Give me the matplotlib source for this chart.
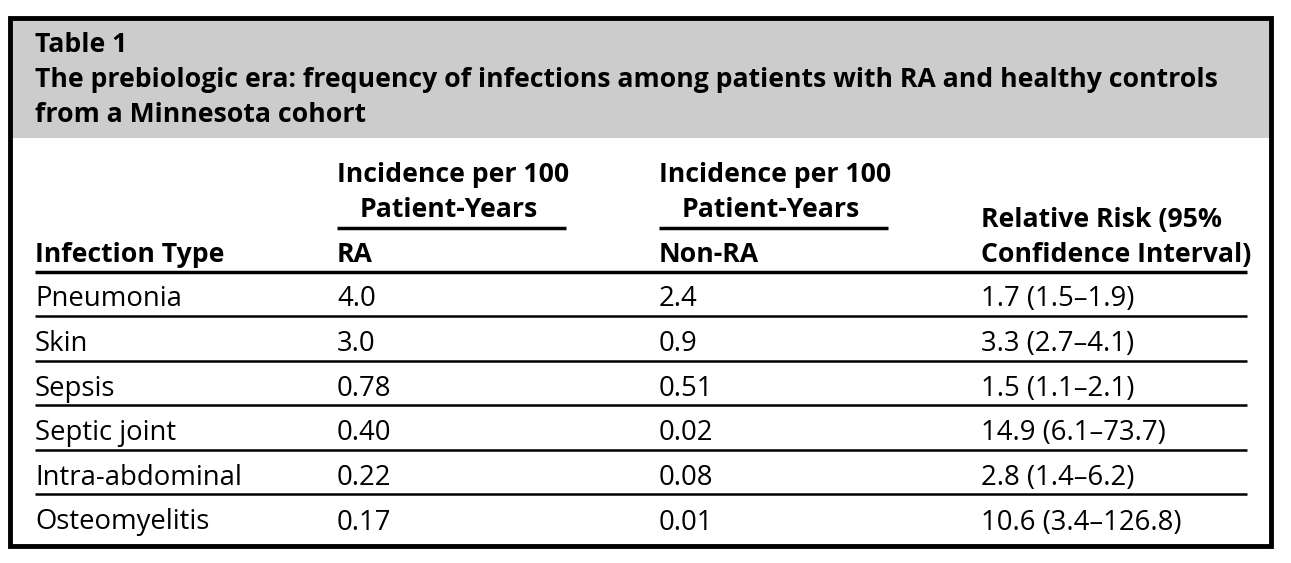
import matplotlib.pyplot as plt
from matplotlib.patches import Rectangle

# table contents
title_lines = ['Table 1',
               'The prebiologic era: frequency of infections among patients with RA and healthy controls',
               'from a Minnesota cohort']
infection_types = ['Pneumonia', 'Skin', 'Sepsis', 'Septic joint', 'Intra-abdominal', 'Osteomyelitis']
incidence_ra = ['4.0', '3.0', '0.78', '0.40', '0.22', '0.17']
incidence_nonra = ['2.4', '0.9', '0.51', '0.02', '0.08', '0.01']
relative_risk = ['1.7 (1.5\u20131.9)', '3.3 (2.7\u20134.1)', '1.5 (1.1\u20132.1)',
                 '14.9 (6.1\u201373.7)', '2.8 (1.4\u20136.2)', '10.6 (3.4\u2013126.8)']

plt.rcParams['font.family'] = ['Open Sans', 'DejaVu Sans']
fs_b = 19.2   # bold headings
fs_r = 19.8   # body cells

fig = plt.figure(figsize=(12.91, 5.63), dpi=100)
ax = fig.add_axes([0, 0, 1, 1])
ax.set_xlim(0, 1291)
ax.set_ylim(563, 0)
ax.axis('off')

# grey title band and outer frame
ax.add_patch(Rectangle((10, 18), 1261, 120, facecolor='#cccccc', edgecolor='none'))
ax.add_patch(Rectangle((10, 18), 1261, 528, facecolor='none', edgecolor='black', lw=3.5))

for i, t in enumerate(title_lines):
    ax.text(35, 45 + i * 35, t, fontsize=fs_b, fontweight='bold', va='center', ha='left')

col_x = [35, 337, 659, 981]

# spanning headers
for x0 in [337, 659]:
    ax.text(x0, 175, 'Incidence per 100', fontsize=fs_b, fontweight='bold', va='center')
    ax.text(x0 + 112, 210, 'Patient-Years', fontsize=fs_b, fontweight='bold', va='center', ha='center')
    ax.plot([x0, x0 + 229], [228, 228], color='black', lw=2.5, solid_capstyle='butt')

ax.text(981, 220, 'Relative Risk (95%', fontsize=fs_b, fontweight='bold', va='center')
headers = ['Infection Type', 'RA', 'Non-RA', 'Confidence Interval)']
for x, h in zip(col_x, headers):
    ax.text(x, 255, h, fontsize=fs_b, fontweight='bold', va='center')

ax.plot([35, 1247], [272, 272], color='black', lw=2.5, solid_capstyle='butt')

row_h = 44.6
for i in range(len(infection_types)):
    yc = 299.5 + i * row_h
    cells = [infection_types[i], incidence_ra[i], incidence_nonra[i], relative_risk[i]]
    for x, c in zip(col_x, cells):
        ax.text(x, yc, c, fontsize=fs_r, va='center')
    if i < len(infection_types) - 1:
        yl = 316 + i * row_h
        ax.plot([35, 1247], [yl, yl], color='black', lw=1.8, solid_capstyle='butt')

fig.savefig('out.png', dpi=100)
